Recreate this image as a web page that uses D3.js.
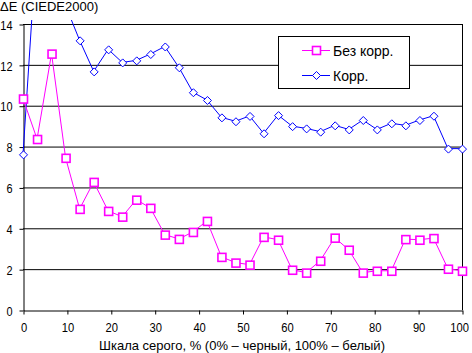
<!DOCTYPE html>
<html>
<head>
<meta charset="utf-8">
<script src="https://cdn.jsdelivr.net/npm/d3@7"></script>
<style>
  body { margin: 0; background: #fff; }
  svg text { font-family: "Liberation Sans", Arial, sans-serif; font-size: 13px; fill: #000; }
</style>
</head>
<body>
<svg id="viz"></svg>
<script>
// window sizing
var width = 472,
	height = 353;

// gray level, % (x values of every point)
var grayLevels = [0, 3.2, 6.5, 9.7, 12.9, 16.1, 19.4, 22.6, 25.8, 29.0, 32.3, 35.5, 38.7, 41.9, 45.2, 48.4,
	51.6, 54.8, 58.1, 61.3, 64.5, 67.7, 71.0, 74.2, 77.4, 80.6, 83.9, 87.1, 90.3, 93.5, 96.8, 100];

// dE without correction
var noCorr = [10.35, 8.37, 12.55, 7.45, 4.95, 6.27, 4.85, 4.57, 5.4, 5.0, 3.69, 3.48, 3.82, 4.36, 2.6, 2.32,
	2.22, 3.58, 3.44, 1.97, 1.83, 2.41, 3.54, 2.95, 1.83, 1.92, 1.92, 3.47, 3.44, 3.52, 2.02, 1.92];

// dE with correction (first points run above the top of the chart)
var withCorr = [7.62, 18.2, 16.5, 14.9, 13.2, 11.68, 12.76, 12.12, 12.22, 12.53, 12.9, 11.88, 10.66, 10.28, 9.43, 9.24,
	9.5, 8.65, 9.54, 9.0, 8.89, 8.73, 9.04, 8.84, 9.3, 8.84, 9.14, 9.04, 9.3, 9.51, 7.9, 7.9];

// axis ticks
var yTicks = [0, 2, 4, 6, 8, 10, 12, 14];
var xTicks = [0, 10, 20, 30, 40, 50, 60, 70, 80, 90, 100];

var seriesNames = ["Без корр.", "Корр."];
var yTitle = "ΔE (CIEDE2000)";
var xTitle = "Шкала серого, % (0% – черный, 100% – белый)";

var pink = "#ff00ff", blue = "#0000ff";

var svg = d3.select("#viz").attr("width", width).attr("height", height);

var x = d3.scaleLinear().domain([0, 100]).range([23, 462]);
var y = d3.scaleLinear().domain([0, 14]).range([310, 24]);

// the original font has narrower digits: squeeze tick labels a little
function squeeze(sel, k) {
	sel.each(function() {
		var w = this.getComputedTextLength();
		d3.select(this).attr("textLength", w * k).attr("lengthAdjust", "spacingAndGlyphs");
	});
}

// lines are clipped a few pixels above the plot area, like the original
svg.append("clipPath").attr("id", "plotClip")
	.append("rect").attr("x", 0).attr("y", 20).attr("width", 463).attr("height", 300);

// horizontal grid lines
svg.append("g")
	.selectAll("line")
	.data(yTicks.filter(function(d) { return d > 0; }))
	.enter()
	.append("line")
	.attr("x1", x(0)).attr("x2", x(100))
	.attr("y1", function(d) { return y(d) + 0.5; })
	.attr("y2", function(d) { return y(d) + 0.5; })
	.attr("stroke", "#000");

// right border
svg.append("line")
	.attr("x1", x(100) + 0.5).attr("x2", x(100) + 0.5)
	.attr("y1", y(14)).attr("y2", y(0))
	.attr("stroke", "#000");

// y axis
var yAxis = svg.append("g")
	.attr("transform", "translate(" + (x(0) + 0.5) + ",0.5)")
	.call(d3.axisLeft(y).tickValues(yTicks).tickSize(4).tickSizeOuter(0));
yAxis.select(".domain").attr("stroke", "#000");
yAxis.selectAll(".tick line").attr("stroke", "#000");
yAxis.selectAll(".tick text").attr("x", -11).attr("dy", "0.36em")
	.style("font-family", "Liberation Sans, Arial").style("font-size", "13px")
	.call(squeeze, 0.84);

// x axis
var xAxis = svg.append("g")
	.attr("transform", "translate(0.5," + (y(0) + 0.5) + ")")
	.call(d3.axisBottom(x).tickValues(xTicks).tickSize(4).tickSizeOuter(0));
xAxis.select(".domain").attr("stroke", "#000");
xAxis.selectAll(".tick line").attr("stroke", "#000");
xAxis.selectAll(".tick text").attr("y", 12)
	.style("font-family", "Liberation Sans, Arial").style("font-size", "13px")
	.call(squeeze, 0.86);
// keep the last label inside the picture
xAxis.selectAll(".tick text").filter(function(d) { return d == 100; })
	.attr("text-anchor", "end").attr("x", 6);

// axis titles
svg.append("text").attr("x", 0).attr("y", 11).text(yTitle);
svg.append("text").attr("x", 242).attr("y", 350).attr("text-anchor", "middle").text(xTitle);

// series lines
var line = d3.line()
	.x(function(d) { return x(d[0]); })
	.y(function(d) { return y(d[1]); });

var container = svg.append("g").attr("clip-path", "url(#plotClip)");

function drawSeries(values, color) {
	var pts = grayLevels.map(function(g, i) { return [g, values[i]]; });
	container.append("path")
		.datum(pts)
		.attr("d", line)
		.attr("fill", "none")
		.attr("stroke", color)
		.attr("stroke-width", 1);
	return pts.filter(function(p) { return p[1] <= 14.1; });
}

var bluePts = drawSeries(withCorr, blue);
var pinkPts = drawSeries(noCorr, pink);

// diamond markers
function diamond(g, cx, cy) {
	g.append("path")
		.attr("d", "M" + cx + "," + (cy - 4) + "L" + (cx + 4) + "," + cy + "L" + cx + "," + (cy + 4) + "L" + (cx - 4) + "," + cy + "Z")
		.attr("fill", "#fff")
		.attr("stroke", blue)
		.attr("stroke-width", 1);
}
// square markers
function square(g, cx, cy) {
	g.append("rect")
		.attr("x", cx - 4).attr("y", cy - 4)
		.attr("width", 8).attr("height", 8)
		.attr("fill", "#fff")
		.attr("stroke", pink)
		.attr("stroke-width", 1.6);
}

var markers = svg.append("g");
bluePts.forEach(function(p) { diamond(markers, x(p[0]) + 0.5, y(p[1]) + 0.5); });
pinkPts.forEach(function(p) { square(markers, x(p[0]) + 0.5, y(p[1]) + 0.5); });

// legend
var legend = svg.append("g");
legend.append("rect")
	.attr("x", 278.5).attr("y", 36.5).attr("width", 131).attr("height", 52)
	.attr("fill", "#fff").attr("stroke", "#000");

[[pink, square], [blue, diamond]].forEach(function(s, i) {
	var ly = 50.5 + i * 25;
	legend.append("line")
		.attr("x1", 302).attr("x2", 330)
		.attr("y1", ly).attr("y2", ly)
		.attr("stroke", s[0]);
	s[1](legend, 316.5, ly);
	legend.append("text")
		.attr("x", 333).attr("y", ly + 5)
		.style("font-size", "14px")
		.text(seriesNames[i]);
});
</script>
</body>
</html>
